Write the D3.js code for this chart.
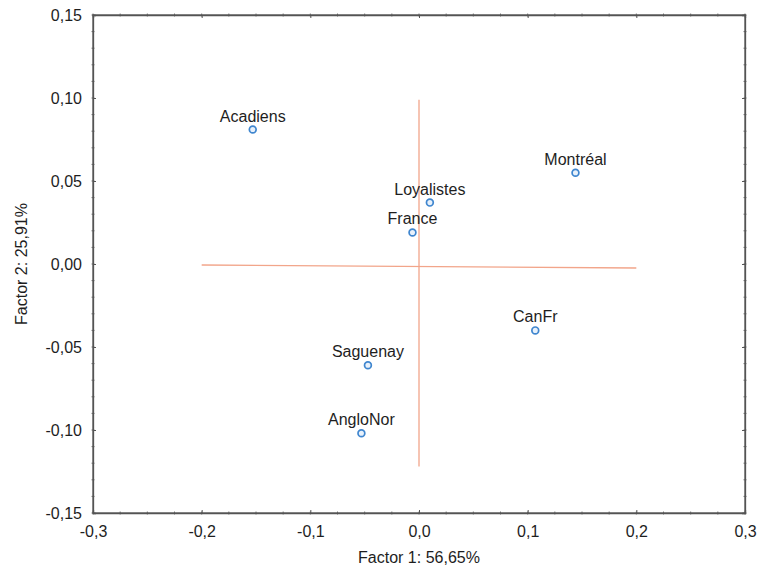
<!DOCTYPE html>
<html>
<head>
<meta charset="utf-8">
<script src="https://cdn.jsdelivr.net/npm/d3@7"></script>
<style>
  html, body { margin: 0; padding: 0; background: #fff; }
  svg { display: block; font-family: "Liberation Sans", Arial, sans-serif; }
</style>
</head>
<body>
<svg id="chart" width="762" height="571"></svg>
<script>
// Population names and their coordinates on the first two factors
const populations = ["Acadiens", "Montréal", "Loyalistes", "France", "CanFr", "Saguenay", "AngloNor"];
const factor1 = [-0.153, 0.144, 0.010, -0.006, 0.107, -0.047, -0.053];
const factor2 = [0.081, 0.055, 0.037, 0.019, -0.040, -0.061, -0.102];

// Axis ticks
const xTicks = [-0.3, -0.2, -0.1, 0.0, 0.1, 0.2, 0.3];
const yTicks = [-0.15, -0.10, -0.05, 0.00, 0.05, 0.10, 0.15];

// Reference cross through the origin
const crossH = [[-0.2, -0.0006], [0.2, -0.0024]];
const crossV = [[0.0, 0.099], [0.0, -0.122]];

const svg = d3.select("#chart");
const margin = { left: 93, top: 15, right: 17, bottom: 58 };
const W = 762, H = 571;

const x = d3.scaleLinear().domain([-0.3, 0.3]).range([margin.left, W - margin.right]);
const y = d3.scaleLinear().domain([-0.15, 0.15]).range([H - margin.bottom, margin.top]);

const fmtX = d => (Math.abs(d) < 1e-9 ? "0,0" : d3.format(".1f")(d).replace("−", "-").replace(".", ","));
const fmtY = d => (Math.abs(d) < 1e-9 ? "0,00" : d3.format(".2f")(d).replace("−", "-").replace(".", ","));

const axisColor = "#555";
const textColor = "#1e1e1e";
const fontSize = "16px";

// Minor ticks on all four sides
const xMinor = d3.range(-0.3, 0.3001, 0.025);
const yMinor = d3.range(-0.15, 0.1501, 0.01);

const g = svg.append("g");

const axBottom = g.append("g")
  .attr("transform", `translate(0,${y(-0.15)})`)
  .call(d3.axisBottom(x).tickValues(xTicks).tickFormat(fmtX).tickSize(-3).tickPadding(13));
const axLeft = g.append("g")
  .attr("transform", `translate(${x(-0.3)},0)`)
  .call(d3.axisLeft(y).tickValues(yTicks).tickFormat(fmtY).tickSize(-3).tickPadding(11));
const axTop = g.append("g")
  .attr("transform", `translate(0,${y(0.15)})`)
  .call(d3.axisTop(x).tickValues(xTicks).tickFormat("").tickSize(-3));
const axRight = g.append("g")
  .attr("transform", `translate(${x(0.3)},0)`)
  .call(d3.axisRight(y).tickValues(yTicks).tickFormat("").tickSize(-3));

[axBottom, axLeft, axTop, axRight].forEach(a => {
  a.select(".domain").attr("stroke", axisColor).attr("stroke-width", 1.3);
  a.selectAll(".tick line").attr("stroke", axisColor).attr("stroke-width", 1);
  a.selectAll(".tick text")
    .attr("fill", textColor)
    .style("font-size", fontSize)
    .style("font-family", "Liberation Sans, Arial, sans-serif");
});

// Minor tick marks crossing the frame
const minor = g.append("g").attr("stroke", axisColor).attr("stroke-width", 0.8);
[y(-0.15), y(0.15)].forEach(yy => {
  minor.append("g").selectAll("line").data(xMinor).join("line")
    .attr("x1", d => x(d)).attr("x2", d => x(d))
    .attr("y1", yy - 1.5).attr("y2", yy + 1.5);
});
[x(-0.3), x(0.3)].forEach(xx => {
  minor.append("g").selectAll("line").data(yMinor).join("line")
    .attr("x1", xx - 1.5).attr("x2", xx + 1.5)
    .attr("y1", d => y(d)).attr("y2", d => y(d));
});

// Frame
g.append("rect")
  .attr("x", x(-0.3)).attr("y", y(0.15))
  .attr("width", x(0.3) - x(-0.3)).attr("height", y(-0.15) - y(0.15))
  .attr("fill", "none").attr("stroke", axisColor).attr("stroke-width", 1.3);

// Origin cross
const line = d3.line().x(d => x(d[0])).y(d => y(d[1]));
[crossH, crossV].forEach(seg => {
  g.append("path").attr("d", line(seg))
    .attr("fill", "none").attr("stroke", "#f2a58a").attr("stroke-width", 1.3);
});

// Points and labels
const pts = populations.map((name, i) => ({ name, f1: factor1[i], f2: factor2[i] }));
const pg = g.append("g");
pg.selectAll("circle").data(pts).join("circle")
  .attr("cx", d => x(d.f1)).attr("cy", d => y(d.f2))
  .attr("r", 3.4)
  .attr("fill", "#e8f1fb")
  .attr("stroke", "#3f86cf").attr("stroke-width", 1.7);
pg.selectAll("text").data(pts).join("text")
  .attr("x", d => x(d.f1)).attr("y", d => y(d.f2) - 8)
  .attr("text-anchor", "middle")
  .attr("fill", textColor)
  .style("font-size", fontSize)
  .text(d => d.name);

// Axis titles
svg.append("text")
  .attr("x", (x(-0.3) + x(0.3)) / 2).attr("y", 563)
  .attr("text-anchor", "middle").attr("fill", textColor)
  .style("font-size", fontSize)
  .text("Factor 1: 56,65%");
svg.append("text")
  .attr("transform", `translate(27,${(y(-0.15) + y(0.15)) / 2}) rotate(-90)`)
  .attr("text-anchor", "middle").attr("fill", textColor)
  .style("font-size", fontSize)
  .text("Factor 2: 25,91%");
</script>
</body>
</html>
